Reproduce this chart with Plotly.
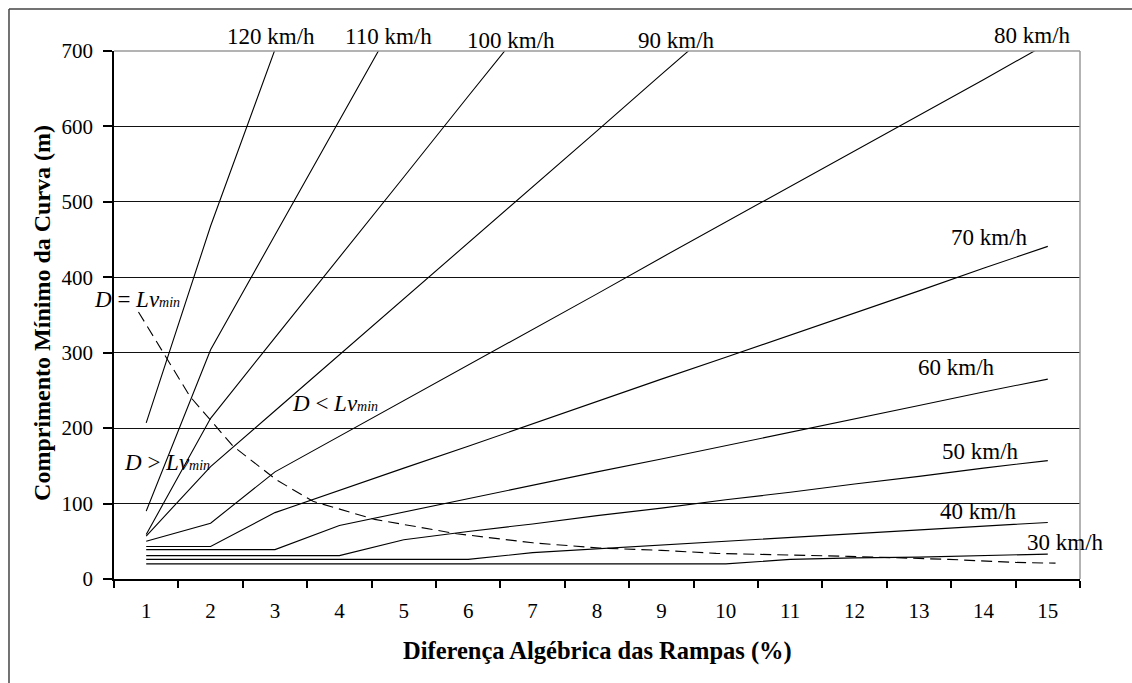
import plotly.graph_objects as go

# ---- data ----
A = list(range(1, 16))
tick_labels = [str(a) for a in A]

speeds = ["120 km/h", "110 km/h", "100 km/h", "90 km/h", "80 km/h",
          "70 km/h", "60 km/h", "50 km/h", "40 km/h", "30 km/h"]

L120 = [207, 468, 702]
L110 = [90, 304, 456, 608, 760]
L100 = [59, 213, 320, 426, 533, 640, 746]
L90 = [57, 149, 223, 297, 372, 446, 520, 594, 669, 743]
L80 = [50, 74, 142, 189, 237, 284, 331, 378, 426, 473, 520, 568, 615, 662, 710]
L70 = [43, 43, 88, 118, 147, 176, 206, 235, 265, 294, 323, 353, 382, 412, 441]
L60 = [39, 39, 39, 71, 89, 106, 124, 142, 159, 177, 195, 212, 230, 248, 265]
L50 = [31, 31, 31, 31, 52, 63, 73, 84, 94, 105, 115, 126, 136, 147, 157]
L40 = [26, 26, 26, 26, 26, 26, 35, 40, 45, 50, 55, 60, 65, 70, 75]
L30 = [20, 20, 20, 20, 20, 20, 20, 20, 20, 20, 26, 28, 29, 31, 33]

series = [L120, L110, L100, L90, L80, L70, L60, L50, L40, L30]

# boundary D = Lv_min (dashed)
D_x = [0.88, 1.27, 1.68, 2.35, 3.03, 3.59, 4.55, 5.82, 7.0, 8.04, 9.0,
       9.85, 11.15, 11.9, 13.46, 14.5, 15.12]
D_y = [354, 300, 242, 176, 131, 103, 79, 60, 48, 41, 38,
       34, 32, 30, 26, 22, 21]

# label anchor positions (data coords) for the speed labels
label_x = [2.94, 4.77, 6.67, 9.23, 14.76, 14.09, 13.58, 13.95, 13.93, 15.28]
label_y = [719, 719, 714, 714, 721, 453, 280, 169, 89, 48]

YMAX = 700
FONT = "Liberation Serif, Times New Roman, serif"

fig = go.Figure()

for name, vals in zip(speeds, series):
    fig.add_trace(go.Scatter(
        x=A[:len(vals)], y=vals, mode="lines", name=name,
        line=dict(color="black", width=1.1), showlegend=False,
        hoverinfo="skip"))

fig.add_trace(go.Scatter(
    x=D_x, y=D_y, mode="lines", name="D = Lvmin",
    line=dict(color="black", width=1.1, dash="11px,6px"),
    showlegend=False, hoverinfo="skip"))

annotations = []
for name, lx, ly in zip(speeds, label_x, label_y):
    # y in paper units (axis range 0..YMAX maps to 0..1) so labels above the top stay visible
    annotations.append(dict(x=lx, y=ly / YMAX, xref="x", yref="paper", text=name,
                            showarrow=False, xanchor="center", yanchor="middle",
                            font=dict(family=FONT, size=23, color="black")))

small = "<span style='font-size:14px'>min</span>"
for txt, lx, ly in [("<i>D</i> = <i>Lv</i>" + "<i>" + small + "</i>", 0.86, 370),
                    ("<i>D</i> &lt; <i>Lv</i>" + "<i>" + small + "</i>", 3.93, 233),
                    ("<i>D</i> &gt; <i>Lv</i>" + "<i>" + small + "</i>", 1.33, 155)]:
    annotations.append(dict(x=lx, y=ly, xref="x", yref="y", text=txt,
                            showarrow=False, xanchor="center", yanchor="middle",
                            font=dict(family=FONT, size=23, color="black")))

# axis titles
annotations.append(dict(x=0.5, y=-0.136, xref="paper", yref="paper",
                        text="<b>Diferença Algébrica das Rampas (%)</b>",
                        showarrow=False, xanchor="center", yanchor="middle",
                        font=dict(family=FONT, size=24.5, color="black")))
annotations.append(dict(x=-0.0745, y=0.504, xref="paper", yref="paper",
                        text="<b>Comprimento Mínimo da Curva (m)</b>", textangle=-90,
                        showarrow=False, xanchor="center", yanchor="middle",
                        font=dict(family=FONT, size=24, color="black")))

shapes = [
    # plot-area border (top and right), grey
    dict(type="line", xref="paper", yref="paper", x0=0, x1=1, y0=1, y1=1,
         line=dict(color="#9a9a9a", width=1.5), layer="above"),
    dict(type="line", xref="paper", yref="paper", x0=1, x1=1, y0=0, y1=1,
         line=dict(color="#9a9a9a", width=1.5), layer="above"),
    # outer chart border (top and left visible)
    dict(type="line", xref="paper", yref="paper", x0=-0.1087, x1=1.06,
         y0=1.0795, y1=1.0795, line=dict(color="#444444", width=1.5)),
    dict(type="line", xref="paper", yref="paper", x0=-0.1087, x1=-0.1087,
         y0=1.0795, y1=-0.2, line=dict(color="#444444", width=1.5)),
]

fig.update_layout(
    width=1132, height=683,
    margin=dict(l=114, r=52, t=51, b=104),
    paper_bgcolor="white", plot_bgcolor="white",
    font=dict(family=FONT, size=21, color="black"),
    annotations=annotations, shapes=shapes,
    xaxis=dict(range=[0.5, 15.5], tickmode="array", tickvals=A, ticktext=tick_labels,
               ticks="outside", ticklen=7, tickcolor="rgba(0,0,0,0)",
               ticklabelstandoff=5,
               minor=dict(tickmode="array", tickvals=[a - 0.5 for a in A] + [15.5],
                          ticks="outside", ticklen=7, tickcolor="black", tickwidth=1.5,
                          showgrid=False),
               showline=True, linecolor="black", linewidth=1.5,
               showgrid=False, zeroline=False, fixedrange=True,
               tickfont=dict(family=FONT, size=21)),
    yaxis=dict(range=[0, YMAX], tickmode="array", tickvals=list(range(0, 701, 100)),
               ticks="outside", ticklen=9, tickcolor="black", tickwidth=1.5,
               ticklabelstandoff=6,
               showline=True, linecolor="black", linewidth=1.5,
               showgrid=True, gridcolor="#111111", gridwidth=1.4,
               zeroline=False, fixedrange=True,
               tickfont=dict(family=FONT, size=21)),
)

fig.write_html("out.html")
